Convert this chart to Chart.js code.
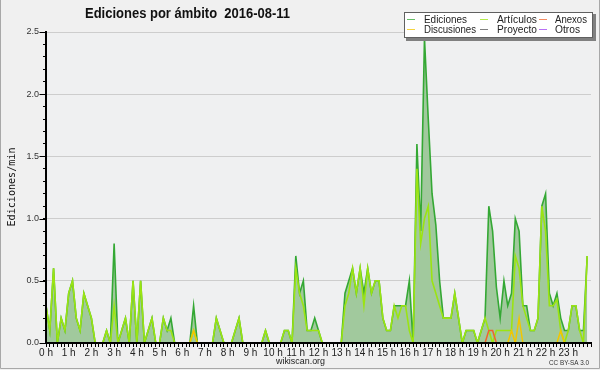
<!DOCTYPE html>
<html><head><meta charset="utf-8">
<script src="https://cdn.jsdelivr.net/npm/chart.js@4/dist/chart.umd.min.js"></script>
<style>html,body{margin:0;padding:0;background:#f0f0f0;overflow:hidden}canvas{display:block}</style>
</head><body>
<canvas id="c" width="600" height="370"></canvas>
<script>
const titleText = 'Ediciones por ámbito  2016-08-11';
const yAxisLabel = 'Ediciones/min';
const footerText = 'wikiscan.org';
const licenseText = 'CC BY-SA 3.0';
const hourLabels = ['0 h','1 h','2 h','3 h','4 h','5 h','6 h','7 h','8 h','9 h','10 h','11 h','12 h','13 h','14 h','15 h','16 h','17 h','18 h','19 h','20 h','21 h','22 h','23 h'];
const yTickLabels = ['0.0','0.5','1.0','1.5','2.0','2.5'];
const seriesNames = ['Ediciones','Artículos','Anexos','Discusiones','Proyecto','Otros'];
const slotsPerHour = 6; // one value every 10 minutes

const edits = [
0.3,0.1,0.6,0,0.2,0.1,0.4,0.5,0.2,0.1,0.4,0.3,
0.2,0,0,0,0.1,0,0.8,0,0.1,0.2,0,0.5,
0,0.5,0,0.1,0.2,0,0,0.2,0.1,0.2,0,0,
0,0,0,0.3,0,0,0,0,0,0.2,0.1,0,
0,0,0.1,0.2,0,0,0,0,0,0,0.1,0,
0,0,0,0.1,0.1,0,0.7,0.4,0.5,0.1,0.1,0.2,
0.1,0,0,0,0,0,0,0.4,0.5,0.6,0.4,0.6,
0.4,0.6,0.4,0.5,0.5,0.2,0.1,0.1,0.3,0.3,0.3,0.3,
0.5,0,1.6,0.9,2.45,1.8,1.2,0.95,0.5,0.2,0.2,0.2,
0.4,0.2,0,0.1,0.1,0.1,0,0.1,0.2,1.1,0.9,0.45,
0.2,0.5,0.3,0.4,1.0,0.9,0.3,0.3,0.1,0.1,0.2,1.1,
1.2,0.4,0.3,0.4,0.2,0.1,0.1,0.3,0.3,0.1,0.1,0.7];

const articles = [
0.3,0.1,0.6,0,0.2,0.1,0.4,0.5,0.2,0.1,0.4,0.3,
0.2,0,0,0,0.1,0,0.3,0,0.1,0.2,0,0.5,
0,0.5,0,0.1,0.2,0,0,0.2,0.1,0.1,0,0,
0,0,0,0.1,0,0,0,0,0,0.2,0.1,0,
0,0,0.1,0.2,0,0,0,0,0,0,0.1,0,
0,0,0,0.1,0.1,0,0.6,0.4,0.3,0.1,0.1,0.1,
0.1,0,0,0,0,0,0,0.3,0.4,0.6,0.4,0.6,
0.3,0.6,0.4,0.5,0.5,0.2,0.1,0.1,0.3,0.2,0.3,0.3,
0.1,0,1.4,0.8,1.0,1.1,0.5,0.4,0.3,0.2,0.2,0.2,
0.4,0.2,0,0.1,0.1,0.1,0,0.1,0.2,0.1,0,0.1,
0.1,0.1,0.1,0.1,0.7,0.6,0.3,0.2,0.1,0.1,0.2,1.1,
0.9,0.3,0.3,0.35,0.1,0,0.1,0.3,0.3,0.1,0,0.7];

const annexes = [
0,0,0,0,0,0,0,0,0,0,0,0,
0,0,0,0,0,0,0,0,0,0,0,0,
0,0,0,0,0,0,0,0,0,0,0,0,
0,0,0,0,0,0,0,0,0,0,0,0,
0,0,0,0,0,0,0,0,0,0,0,0,
0,0,0,0,0,0,0,0,0,0,0,0,
0,0,0,0,0,0,0,0,0,0,0,0,
0,0,0,0,0,0,0,0,0,0,0,0,
0,0,0,0,0,0,0,0,0,0,0,0,
0,0,0,0,0,0,0,0,0,0.1,0.1,0,
0,0,0,0,0,0,0,0,0,0,0,0,
0,0,0,0,0,0,0,0,0,0,0,0];

const discussions = [
0,0,0,0,0,0,0,0,0,0,0,0,
0,0,0,0,0,0,0,0,0,0,0,0,
0,0,0,0,0,0,0,0,0,0,0,0,
0,0,0,0.1,0,0,0,0,0,0,0,0,
0,0,0,0,0,0,0,0,0,0,0,0,
0,0,0,0,0,0,0,0,0,0,0,0,
0,0,0,0,0,0,0,0,0,0,0,0,
0,0,0,0,0,0,0,0,0,0,0,0,
0,0,0,0,0,0,0,0,0,0,0,0,
0,0,0,0,0,0,0,0,0,0,0,0,
0,0,0,0.1,0,0.2,0,0,0,0,0,0,
0,0,0,0,0.1,0,0,0,0,0,0,0];

const project = [
0,0,0,0,0,0,0,0,0,0,0,0,
0,0,0,0,0,0,0,0,0,0,0,0,
0,0,0,0,0,0,0,0,0,0,0,0,
0,0,0,0,0,0,0,0,0,0,0,0,
0,0,0,0,0,0,0,0,0,0,0,0,
0,0,0,0,0,0,0,0,0,0,0,0,
0,0,0,0,0,0,0,0,0,0,0,0,
0,0,0,0,0,0,0,0,0,0,0,0,
0,0,0,0,0,0,0,0,0,0,0,0,
0,0,0,0,0,0,0,0,0,0,0,0,
0,0,0,0,0,0,0,0,0,0,0,0,
0,0,0,0,0,0,0,0,0,0,0,0];

const others = [
0,0,0,0,0,0,0,0,0,0,0,0,
0,0,0,0,0,0,0,0,0,0,0,0,
0,0,0,0,0,0,0,0,0,0,0,0,
0,0,0,0,0,0,0,0,0,0,0,0,
0,0,0,0,0,0,0,0,0,0,0,0,
0,0,0,0,0,0,0,0,0,0,0,0,
0,0,0,0,0,0,0,0,0,0,0,0,
0,0,0,0,0,0,0,0,0,0,0,0,
0,0,0,0,0,0,0,0,0,0,0,0,
0,0,0,0,0,0,0,0,0,0,0,0,
0,0,0,0,0,0,0,0,0,0,0,0,
0,0,0,0,0,0,0,0,0,0,0,0];

function pts(arr){ return arr.map((v,i)=>({x:i/slotsPerHour, y:v})); }

function fitText(ctx, text, x, y, font, width, color){
  ctx.save(); ctx.font = font; ctx.fillStyle = color || '#000';
  ctx.textAlign='left'; ctx.textBaseline='alphabetic';
  const w = ctx.measureText(text).width; const s = width / w;
  ctx.translate(x, y); ctx.scale(s, 1); ctx.fillText(text, 0, 0); ctx.restore();
}

const bgPlugin = {
  id:'bg',
  beforeDraw(chart){
    const ctx = chart.ctx; const a = chart.chartArea;
    ctx.save();
    ctx.fillStyle = '#f0f0f0'; ctx.fillRect(0,0,600,370);
    ctx.fillStyle = '#eff0f1'; ctx.fillRect(a.left, a.top, a.right-a.left, a.bottom-a.top);
    ctx.strokeStyle = '#a8a8a8'; ctx.lineWidth = 1;
    ctx.beginPath(); ctx.moveTo(0.5,0); ctx.lineTo(0.5,368.5); ctx.lineTo(599.5,368.5); ctx.lineTo(599.5,0); ctx.stroke();
    ctx.restore();
  }
};

const legendLayout = [
  {x:407, text:424, row:0, w:43},  // Ediciones
  {x:480, text:497, row:0, w:40},  // Artículos
  {x:539, text:555, row:0, w:32},  // Anexos
  {x:407, text:424, row:1, w:52},  // Discusiones
  {x:480, text:497, row:1, w:40},  // Proyecto
  {x:539, text:555, row:1, w:25}   // Otros
];

const decorPlugin = {
  id:'decor',
  afterDraw(chart){
    const ctx = chart.ctx; const ys = chart.scales.y;
    ctx.save();
    // longer major ticks on y axis
    ctx.strokeStyle = '#000'; ctx.lineWidth = 1;
    yTickLabels.forEach(t => {
      const py = Math.round(ys.getPixelForValue(parseFloat(t))) + 0.5;
      ctx.beginPath(); ctx.moveTo(39.5, py); ctx.lineTo(45, py); ctx.stroke();
    });
    // title
    fitText(ctx, titleText, 85, 18, 'bold 14px "Liberation Sans"', 205, '#111');
    // y axis label
    ctx.save(); ctx.translate(15, 187); ctx.rotate(-Math.PI/2);
    ctx.font = '11px "DejaVu Sans Mono"'; ctx.fillStyle = '#111'; ctx.textAlign='center'; ctx.textBaseline='alphabetic';
    const w = ctx.measureText(yAxisLabel).width; ctx.scale(79/w, 1); ctx.fillText(yAxisLabel, 0, 0);
    ctx.restore();
    // footer
    fitText(ctx, footerText, 276, 364, '9px "Liberation Sans"', 49, '#222');
    fitText(ctx, licenseText, 549, 364.5, '7px "Liberation Sans"', 40, '#333');
    // legend box
    ctx.fillStyle = '#808080'; ctx.fillRect(406, 14, 190, 27);
    ctx.fillStyle = '#ffffff'; ctx.fillRect(404, 12, 189, 26);
    ctx.strokeStyle = '#606060'; ctx.lineWidth = 1; ctx.strokeRect(404.5, 12.5, 188, 25);
    chart.data.datasets.forEach((ds, i) => {
      const L = legendLayout[i]; const cy = L.row === 0 ? 19.5 : 29.5;
      ctx.globalAlpha = 0.75; ctx.strokeStyle = ds.borderColor; ctx.lineWidth = 1;
      ctx.beginPath(); ctx.moveTo(L.x, cy); ctx.lineTo(L.x+8, cy); ctx.stroke();
      ctx.globalAlpha = 1;
      fitText(ctx, ds.label, L.text, L.row === 0 ? 23 : 33, '10px "Liberation Sans"', L.w, '#222');
    });
    ctx.restore();
  }
};

new Chart(document.getElementById('c'), {
  type:'line',
  data:{ datasets:[
    {label:seriesNames[0], data:pts(edits), borderColor:'#34a834', backgroundColor:'#a1c99d', fill:'origin', borderWidth:1.6, order:6},
    {label:seriesNames[1], data:pts(articles), borderColor:'#9be412', fill:false, borderWidth:1.6, order:5},
    {label:seriesNames[2], data:pts(annexes), borderColor:'#f0642d', fill:false, borderWidth:1.5, order:4},
    {label:seriesNames[3], data:pts(discussions), borderColor:'#f2c600', fill:false, borderWidth:1.5, order:3},
    {label:seriesNames[4], data:pts(project), borderColor:'#555555', fill:false, borderWidth:1.5, order:2},
    {label:seriesNames[5], data:pts(others), borderColor:'#a040f0', fill:false, borderWidth:1.5, order:1}
  ]},
  options:{
    responsive:false, animation:false, devicePixelRatio:1,
    layout:{padding:{top:32, right:9, left:0, bottom:0}},
    elements:{point:{radius:0, hitRadius:0}, line:{tension:0}},
    plugins:{legend:{display:false}, title:{display:false}, tooltip:{enabled:false}},
    scales:{
      x:{type:'linear', min:0, max:24,
        afterBuildTicks(s){ const t=[]; for(let k=0;k<=24*slotsPerHour;k++) t.push({value:k/slotsPerHour}); s.ticks=t; },
        afterFit(s){ s.height = 27; },
        grid:{drawOnChartArea:false, drawTicks:true, tickLength:4, tickColor:'#000', tickWidth:1},
        border:{color:'#000', width:2, z:1},
        ticks:{autoSkip:false, maxRotation:0, minRotation:0, padding:0, color:'#222', font:{family:'Liberation Sans', size:10},
          callback(v, idx){ return (idx % slotsPerHour === 0 && idx/slotsPerHour < hourLabels.length) ? hourLabels[idx/slotsPerHour] : ''; }}
      },
      y:{min:0, max:2.5,
        afterBuildTicks(s){ const t=[]; for(let k=0;k<=25;k++) t.push({value:k/10}); s.ticks=t; },
        afterFit(s){ s.width = 46; },
        grid:{color(c){ return c.index % 5 === 0 ? '#cdcdcd' : 'rgba(0,0,0,0)'; }, tickColor:'#000', tickLength:3, lineWidth:1},
        border:{color:'#000', width:2, z:1},
        ticks:{autoSkip:false, padding:4, color:'#333', font:{family:'Liberation Sans', size:9},
          callback(v, idx){ return idx % 5 === 0 ? yTickLabels[idx/5] : ''; }}
      }
    }
  },
  plugins:[bgPlugin, decorPlugin]
});
</script>
</body></html>
